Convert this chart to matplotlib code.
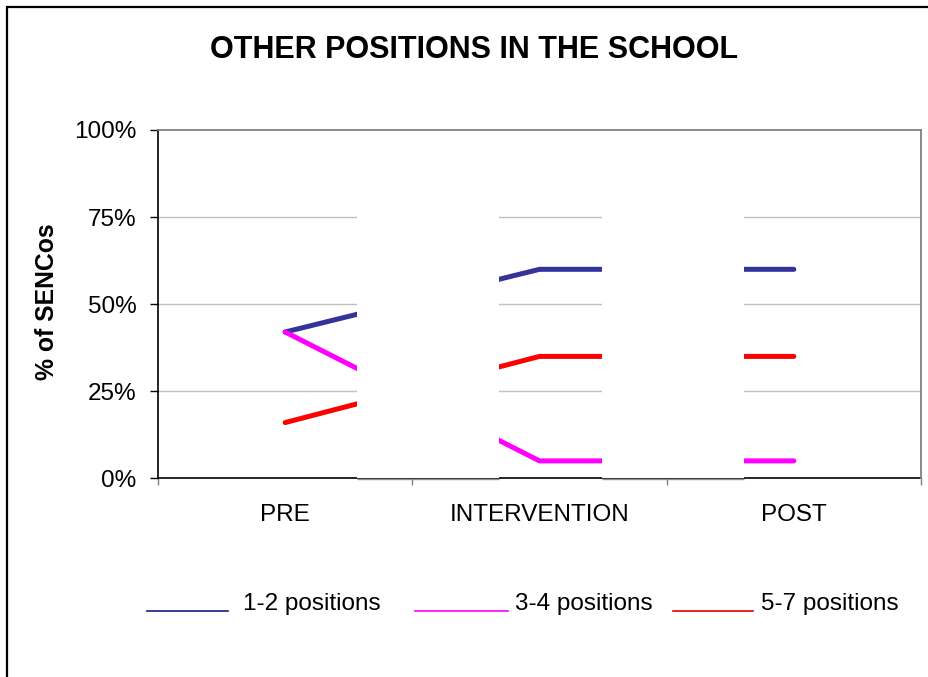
import matplotlib
matplotlib.use("Agg")
import matplotlib.pyplot as plt
from matplotlib.lines import Line2D
from matplotlib.patches import Rectangle

categories = ["PRE", "INTERVENTION", "POST"]
series_names = ["1-2 positions", "3-4 positions", "5-7 positions"]
vals_12 = [42, 60, 60]
vals_34 = [42, 5, 5]
vals_57 = [16, 35, 35]
y_ticks = [0, 25, 50, 75, 100]
y_tick_labels = ["0%", "25%", "50%", "75%", "100%"]

colors = ["#333399", "#FF00FF", "#FF0000"]
legend_colors = ["#1a1a80", "#FF00FF", "#E00000"]

plt.rcParams['font.family'] = ['Liberation Sans', 'DejaVu Sans']
FS = 17.5

fig = plt.figure(figsize=(9.29, 6.77), dpi=100)
ax = fig.add_axes([158/929, 1-478.3/677, (921-158)/929, (478.3-130)/677])

x = list(range(len(categories)))
for vals, c in zip([vals_12, vals_34, vals_57], colors):
    ax.plot(x, vals, color=c, lw=3.6, solid_capstyle='round', solid_joinstyle='round', zorder=3)

ax.set_xlim(-0.5, 2.5)
ax.set_ylim(0, 100)
ax.set_yticks(y_ticks)
ax.set_yticklabels(y_tick_labels, fontsize=FS)
ax.tick_params(axis='y', length=5.8, width=1, pad=9.5, color='black')

ax.set_xticks([-0.5, 0.5, 1.5, 2.5])
ax.set_xticklabels([])
ax.tick_params(axis='x', which='major', length=5, width=1, color='#808080')
ax.set_xticks(x, minor=True)
ax.set_xticklabels(categories, minor=True, fontsize=FS)
ax.tick_params(axis='x', which='minor', length=0, pad=18.5)

for yv in [25, 50, 75]:
    ax.axhline(yv, color='#C0C0C0', lw=1, zorder=1)

ax.spines['top'].set_color('#808080')
ax.spines['right'].set_color('#808080')
ax.spines['top'].set_linewidth(1.3)
ax.spines['right'].set_linewidth(1.3)
ax.spines['left'].set_color('black')
ax.spines['bottom'].set_color('black')
ax.spines['left'].set_linewidth(1.2)
ax.spines['bottom'].set_linewidth(1.2)
ax.spines['top'].set_zorder(7)
ax.spines['right'].set_zorder(7)
ax.spines['bottom'].set_zorder(4)

# white rendering gaps present in the reference
gaps = [(0.283, 0.842), (1.247, 1.805)]
for g0, g1 in gaps:
    ax.axvspan(g0, g1, ymin=-0.003, ymax=0.997, color='white', zorder=5, lw=0)
    ax.hlines(-0.3, g0, g1, color='#909090', lw=1, zorder=6, clip_on=False)

fig.text(0.51, 1-49.5/677, "OTHER POSITIONS IN THE SCHOOL", ha='center', va='center',
         fontsize=22, fontweight='bold')
fig.text(47/929, 1-302/677, "% of SENCos", rotation=90, ha='center', va='center',
         fontsize=17.8, fontweight='bold')

# legend
leg_lines = [(147, 228), (415, 508), (673, 753)]
leg_text_x = [243, 515, 761]
for (l0, l1), tx, name, c in zip(leg_lines, leg_text_x, series_names, legend_colors):
    fig.add_artist(Line2D([l0/929, l1/929], [1-611/677, 1-611/677], color=c, lw=1.2,
                          transform=fig.transFigure))
    fig.text(tx/929, 1-604/677, name, ha='left', va='center', fontsize=FS)

# outer border
fig.add_artist(Rectangle((7.5/929, -0.1), 1.2, 1-6.5/677+0.1, fill=False, edgecolor='black',
                         lw=1.6, transform=fig.transFigure))

fig.savefig("out.png", dpi=100)
